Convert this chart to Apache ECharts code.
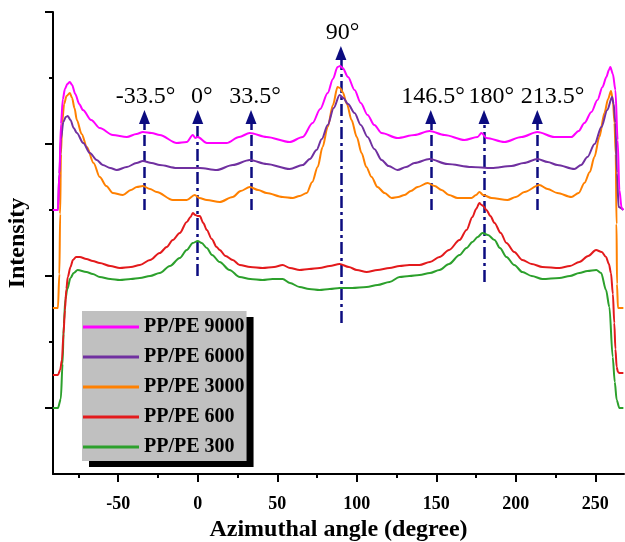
<!DOCTYPE html>
<html>
<head>
<meta charset="utf-8">
<script src="https://cdn.jsdelivr.net/npm/echarts@6/dist/echarts.min.js"></script>
<style>
  html, body { margin: 0; padding: 0; background: #fff; }
  #chart { width: 625px; height: 542px; }
</style>
</head>
<body>
<div id="chart"></div>
<script>
// azimuthal angle (deg) vs intensity (a.u., offset curves)
const pe9000 = [[-91.1,264],[-87.9,264],[-87.0,300],[-86.0,350],[-84.8,375],[-83.5,385],[-82,390],[-80.4,392],[-79,389],[-77,380],[-74.5,370],[-72.2,364],[-67,354],[-61.6,346],[-53.4,339],[-44.6,337],[-38.5,340],[-34.5,342],[-29,341],[-23.9,339],[-13.2,331],[-6.9,332],[-3.1,339],[-1.5,336],[0,337],[5.7,331],[18.2,331],[26,337],[32.7,341],[43.3,337],[57.8,332],[66.0,337],[72.2,351],[77,365],[81.7,381],[85,395],[87.9,407],[89.5,408],[91.1,406],[94.5,397],[98.6,384],[102.5,371],[106.8,359],[111,349],[115.6,341],[125.6,336],[136.3,339],[145.7,343],[155.2,339],[167.7,334],[175.9,337],[178.4,341],[181.5,336],[192.8,332],[203.5,337],[213.6,342],[224.2,337],[234.9,337],[239.5,343],[243.1,351],[247.5,362],[251.3,374],[254.5,387],[256.9,397],[258.5,404],[259.4,407],[261.0,400],[262.6,384],[264.0,334],[265.1,284],[266.5,266],[267.6,264]];
const pe6000 = [[-91.1,264],[-87.9,264],[-87.0,300],[-86.0,335],[-84.5,352],[-83.0,357],[-81.7,358],[-80.0,354],[-78,346],[-76.0,341],[-72,331],[-67.8,321],[-63.5,314],[-59.7,309],[-55,306],[-50.9,304],[-44.6,307],[-38.5,311],[-34.5,313],[-29,311],[-23.9,309],[-13.2,306],[1.3,306],[11.9,304],[22.0,309],[32.7,314],[43.3,310],[57.8,305],[66.0,309],[70.5,315],[74.7,324],[78,335],[81.7,349],[85.5,366],[89.2,379],[91.5,376],[94.5,370],[98.6,361],[102.5,349],[106.8,337],[111,325],[115.6,314],[120,308],[125.6,304],[131,307],[136.3,311],[145.7,315],[157.0,310],[172.1,307],[184.7,306],[197.2,308],[205,311],[213.6,315],[220,312],[226.1,309],[236.8,305],[241,309],[245.0,317],[249.5,330],[253.8,347],[257.5,364],[260.5,377],[261.5,370],[262.6,351],[263.6,301],[264.6,267],[267.6,264]];
const pe3000 = [[-91.1,166],[-87.9,166],[-87.0,200],[-86.5,260],[-86.0,320],[-85.2,352],[-84.0,370],[-82.5,378],[-80.4,381],[-79,376],[-77.5,366],[-76.0,354],[-73,340],[-69.7,327],[-65.5,311],[-61.6,297],[-57.5,288],[-53.4,281],[-47.1,279],[-42,284],[-38.3,287],[-34.5,288],[-30,285],[-25.8,282],[-15.7,274],[-6.9,274],[-1.9,279],[1,276],[5.7,274],[13.8,272],[22.0,277],[27,283],[32.7,287],[38,284],[43.3,281],[53.4,277],[59.7,276],[64,278],[68.5,281],[72,292],[75.4,307],[78.5,327],[81.7,347],[85,369],[87.9,387],[89.5,386],[91.1,382],[93.8,370],[96.7,354],[100,337],[103.0,321],[106,307],[109.3,297],[113,287],[117.5,281],[121.9,276],[126,277],[130.0,279],[134,283],[138.2,287],[144.5,291],[149,288],[153.3,284],[158,279],[163.3,276],[172.1,276],[175,279],[177.1,282],[179.5,279],[184.7,276],[194.7,274],[200,277],[205.4,282],[214.8,289],[220,285],[226.1,281],[234.9,277],[239.5,281],[243.1,291],[246.5,302],[249.4,317],[252.5,337],[255.7,361],[258,375],[259.8,383],[261.0,374],[262.0,351],[262.8,320],[263.3,250],[263.6,190],[264.2,166],[267.6,166]];
const pe600 = [[-91.1,99],[-87.9,99],[-86.5,104],[-85.4,114],[-84.4,140],[-83.5,164],[-82.6,185],[-81.7,197],[-80,207],[-78.5,214],[-76.5,217],[-74.1,217],[-70,215],[-66,213],[-61.6,211],[-55,208],[-49.0,206],[-42,207],[-36.4,209],[-30,214],[-23.9,221],[-19.5,227],[-15.7,234],[-11.3,241],[-6.9,252],[-4.5,257],[-3.1,261],[-1.5,259],[0,258],[1.3,258],[3.5,251],[5.7,244],[8.8,235],[11.9,227],[13.8,224],[17.5,218],[22.0,214],[26.4,209],[33,207],[40.8,206],[48,207],[53.4,209],[58,206],[64.1,204],[70,205],[76.6,206],[83,208],[89.2,210],[95,207],[100,204],[106.2,202],[113,204],[120.6,206],[126.9,208],[133,209],[139.4,209],[146,212],[152.0,217],[158,224],[164.6,234],[169,244],[172.7,257],[175,265],[177.1,271],[178.5,269],[179.5,268],[181.5,264],[184,258],[186.6,251],[190.5,241],[194.1,231],[199,222],[204.1,214],[210,210],[216.7,207],[227.4,206],[234,208],[239.9,212],[245.5,218],[250.4,224],[254,222],[256.7,217],[258.5,210],[259.8,201],[261.0,180],[261.9,151],[262.6,125],[263.4,107],[264.2,102],[265.1,101],[267.6,101]];
const pe300 = [[-91.1,66],[-87.9,66],[-86.1,75],[-85.0,110],[-84.2,150],[-83.2,175],[-82,185],[-80,196],[-78,201],[-75.5,204],[-70,202],[-66,200],[-61.6,197],[-55,195],[-49.0,194],[-42,195],[-36.4,196],[-30,198],[-23.9,201],[-17.5,208],[-11.3,216],[-6.9,224],[-3.1,231],[0,233],[2.5,231],[5.7,226],[9,219],[13.8,212],[20,204],[26.4,197],[33,195],[40.8,194],[47,195],[53.4,195],[58,191],[64.1,187],[70,185],[76.6,184],[83,185],[89.2,186],[97,186],[106.2,187],[113,189],[120.6,192],[126.9,197],[133,198],[139.4,199],[146,201],[152.0,204],[158,210],[164.6,219],[169,226],[172.7,232],[176,237],[179.0,241],[182.5,239],[186.6,234],[190,226],[194.1,217],[199,209],[204.1,202],[210,198],[216.7,195],[227.4,196],[234,198],[239.9,201],[245,203],[250.6,204],[253.6,201],[256.7,184],[258.8,167],[260.9,117],[262.2,92],[263.4,74],[265.1,66],[267.6,66]];

const seriesNames = ['PP/PE 9000', 'PP/PE 6000', 'PP/PE 3000', 'PP/PE 600', 'PP/PE 300'];
const seriesData = [pe9000, pe6000, pe3000, pe600, pe300];
const seriesColors = ['#ff00ff', '#7030a0', '#ff8000', '#e31a1c', '#2ca02c'];

// axis ticks
const xMajor = [-50, 0, 50, 100, 150, 200, 250];
const xMinor = [-75, -25, 25, 75, 125, 175, 225];
const yMajor = [66, 198, 330, 462];
const yMinor = [132, 264, 396];

// orientation markers: angle, label, line bottom, arrow head, dash style
const markAngles = [-33.5, 0, 33.5, 90, 146.5, 180, 213.5];
const markLabels = ['-33.5°', '0°', '33.5°', '90°', '146.5°', '180°', '213.5°'];
const markBottoms = [264, 198, 264, 151, 264, 192, 264];
const markHeads = [357, 357, 357, 421, 357, 357, 357];
const markDashDot = [false, true, false, true, false, true, false];
const labelAngles = [-32.8, 2.5, 36, 91, 148, 184.5, 223];
const labelHeights = [377, 377, 377, 441, 377, 377, 377];

const FONT = '"Liberation Serif", "Times New Roman", serif';
const NAVY = '#0c0c80';

const chart = echarts.init(document.getElementById('chart'));

const lineSeries = seriesNames.map((name, i) => ({
  name,
  type: 'line',
  data: seriesData[i],
  showSymbol: false,
  symbol: 'none',
  smooth: 0.3,
  smoothMonotone: 'x',
  lineStyle: { color: seriesColors[i], width: 2 },
  itemStyle: { color: seriesColors[i] },
  z: 10 - i,
})).reverse();

const markLineData = markAngles.map((a, i) => [
  {
    coord: [a, markBottoms[i]],
    lineStyle: { type: markDashDot[i] ? [12, 4, 3, 4] : [11, 5] },
  },
  { coord: [a, markHeads[i]] },
]);

const annotSeries = {
  name: 'marks',
  type: 'scatter',
  symbolSize: 0,
  silent: true,
  z: 20,
  data: markLabels.map((t, i) => [labelAngles[i], labelHeights[i], t]),
  label: {
    show: true,
    position: 'inside',
    formatter: (p) => p.data[2],
    fontFamily: FONT,
    fontSize: 24,
    color: '#000',
    opacity: 1,
    textBorderWidth: 0,
    textBorderColor: 'transparent',
  },
  markLine: {
    silent: true,
    symbol: ['none', 'triangle'],
    symbolSize: [11, 14],
    label: { show: false },
    lineStyle: { color: NAVY, width: 2.5 },
    itemStyle: { color: NAVY },
    emphasis: { disabled: true },
    data: markLineData,
  },
};

const option = {
  animation: false,
  backgroundColor: '#fff',
  grid: { left: 53, right: 1, top: 12, bottom: 68, containLabel: false, outerBoundsMode: 'none' },
  legend: {
    orient: 'vertical',
    left: 82,
    top: 311,
    data: seriesNames,
    icon: 'rect',
    backgroundColor: '#c0c0c0',
    padding: [5, 2, 3, 1],
    itemWidth: 56,
    itemHeight: 3,
    itemGap: 8,
    shadowColor: '#000',
    shadowBlur: 0,
    shadowOffsetX: 7,
    shadowOffsetY: 6,
    selectedMode: false,
    textStyle: { fontFamily: FONT, fontWeight: 'bold', fontSize: 20, lineHeight: 22, color: '#000' },
  },
  xAxis: [
    {
      type: 'value',
      min: -91,
      max: 268,
      name: 'Azimuthal angle (degree)',
      nameLocation: 'middle',
      nameGap: 44,
      nameTextStyle: { fontFamily: FONT, fontWeight: 'bold', fontSize: 24, color: '#000' },
      axisLine: { onZero: false, lineStyle: { color: '#000', width: 2 } },
      axisTick: { customValues: xMajor, length: 8, lineStyle: { color: '#000', width: 2 } },
      axisLabel: { customValues: xMajor, margin: 21, fontFamily: FONT, fontWeight: 'bold', fontSize: 18, color: '#000' },
      splitLine: { show: false },
    },
    {
      type: 'value',
      position: 'bottom',
      min: -91,
      max: 268,
      axisLine: { show: false, onZero: false },
      axisTick: { customValues: xMinor, length: 4, lineStyle: { color: '#000', width: 2 } },
      axisLabel: { show: false },
      splitLine: { show: false },
    },
  ],
  yAxis: [
    {
      type: 'value',
      min: 0,
      max: 462,
      name: 'Intensity',
      nameLocation: 'middle',
      nameGap: 23,
      nameTextStyle: { fontFamily: FONT, fontWeight: 'bold', fontSize: 24, color: '#000' },
      axisLine: { show: true, onZero: false, lineStyle: { color: '#000', width: 2 } },
      axisTick: { show: true, customValues: yMajor, length: 8, lineStyle: { color: '#000', width: 2 } },
      axisLabel: { show: false },
      splitLine: { show: false },
    },
    {
      type: 'value',
      position: 'left',
      min: 0,
      max: 462,
      axisLine: { show: false, onZero: false },
      axisTick: { show: true, customValues: yMinor, length: 4, lineStyle: { color: '#000', width: 2 } },
      axisLabel: { show: false },
      splitLine: { show: false },
    },
  ],
  series: [...lineSeries, annotSeries],
};

chart.setOption(option);
</script>
</body>
</html>
